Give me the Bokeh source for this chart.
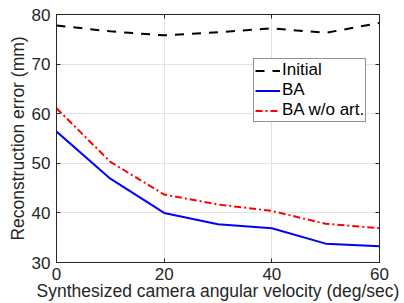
from bokeh.plotting import figure
from bokeh.models import LinearAxis, Legend, LegendItem, FixedTicker
from bokeh.embed import file_html
from bokeh.resources import INLINE

velocity = [0, 10, 20, 30, 40, 50, 60]
initial = [77.8, 76.6, 75.8, 76.4, 77.2, 76.3, 78.3]
ba = [56.4, 46.9, 40.0, 37.7, 36.9, 33.8, 33.3]
ba_wo_art = [61.1, 50.3, 43.7, 41.7, 40.4, 37.8, 36.9]
x_ticks = [0, 20, 40, 60]
y_ticks = [30, 40, 50, 60, 70, 80]

FONT = "Liberation Sans"
AX = "#262626"

p = figure(width=404, height=303, x_range=(0, 60), y_range=(30, 80),
           output_backend="svg", toolbar_location=None,
           min_border_left=56, min_border_right=25, min_border_top=14, min_border_bottom=41,
           x_axis_label="Synthesized camera angular velocity (deg/sec)",
           y_axis_label="Reconstruction error (mm)")
p.background_fill_color = "white"
p.border_fill_color = "white"
p.outline_line_color = AX
p.outline_line_width = 1

for ax, ticks in ((p.xaxis[0], x_ticks), (p.yaxis[0], y_ticks)):
    ax.ticker = FixedTicker(ticks=ticks)
    ax.axis_line_color = AX
    ax.major_tick_line_color = AX
    ax.major_tick_in = 4
    ax.major_tick_out = 0
    ax.minor_tick_line_color = None
    ax.major_label_text_font = FONT
    ax.major_label_text_font_size = "17px"
    ax.major_label_text_color = AX
    ax.axis_label_text_font = FONT
    ax.axis_label_text_font_size = "17.5px"
    ax.axis_label_text_font_style = "normal"
    ax.axis_label_text_color = AX

p.xaxis.major_label_standoff = 5
p.xaxis.axis_label_standoff = -2
p.yaxis.major_label_standoff = 6
p.yaxis.axis_label_standoff = 1

for loc, ticks in (("right", y_ticks), ("above", x_ticks)):
    a = LinearAxis(ticker=FixedTicker(ticks=ticks),
                   major_label_overrides={t: "" for t in ticks})
    a.axis_line_color = AX
    a.major_tick_line_color = AX
    a.major_tick_in = 4
    a.major_tick_out = 0
    a.minor_tick_line_color = None
    a.major_label_text_font_size = "1px"
    a.major_label_standoff = 0
    p.add_layout(a, loc)

p.xgrid.ticker = FixedTicker(ticks=x_ticks)
p.ygrid.ticker = FixedTicker(ticks=y_ticks)
p.grid.grid_line_color = "#e3e3e3"
p.grid.grid_line_width = 1

r1 = p.line(velocity, initial, line_color="black", line_width=2, line_dash="9 8")
r2 = p.line(velocity, ba, line_color="#0000ff", line_width=2)
r3 = p.line(velocity, ba_wo_art, line_color="#ff0000", line_width=2, line_dash="7 3 2 3")

legend = Legend(items=[LegendItem(label="Initial", renderers=[r1]),
                       LegendItem(label="BA", renderers=[r2]),
                       LegendItem(label="BA w/o art.", renderers=[r3])],
                location=(197, 140))
legend.label_text_font = FONT
legend.label_text_font_size = "17px"
legend.label_text_color = "black"
legend.label_standoff = 2
legend.label_height = 17
legend.glyph_width = 25
legend.glyph_height = 17
legend.spacing = 0
legend.padding = 1
legend.margin = 0
legend.border_line_color = AX
legend.border_line_width = 1
legend.background_fill_color = "white"
legend.background_fill_alpha = 1
p.add_layout(legend, "center")

open("out.html", "w").write(file_html(p, INLINE))
